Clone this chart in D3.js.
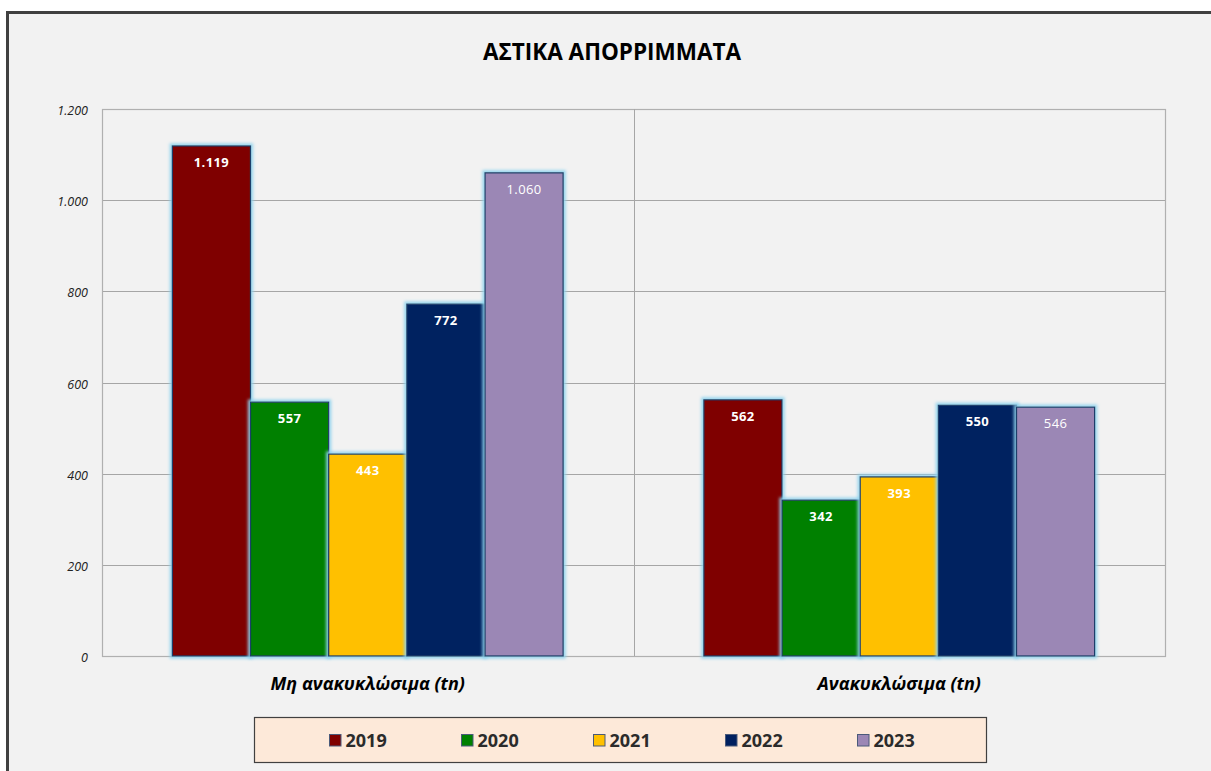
<!DOCTYPE html>
<html>
<head>
<meta charset="utf-8">
<script src="https://cdn.jsdelivr.net/npm/d3@7"></script>
<style>
  html, body { margin: 0; padding: 0; background: #ffffff; }
  svg { display: block; }
</style>
</head>
<body>
<div id="chart"></div>
<script>
// ── Data ─────────────────────────────────────────────
var categories = ['Μη ανακυκλώσιμα (tn)', 'Ανακυκλώσιμα (tn)'];
var years      = ['2019', '2020', '2021', '2022', '2023'];
var values2019 = [1119, 562];
var values2020 = [557, 342];
var values2021 = [443, 393];
var values2022 = [772, 550];
var values2023 = [1060, 546];
var yTicks     = [0, 200, 400, 600, 800, 1000, 1200];

var seriesValues = [values2019, values2020, values2021, values2022, values2023];
var COLORS = ['#7f0000', '#008000', '#ffc000', '#002060', '#9b87b5'];
var FONT = '"Open Sans", "Noto Sans", sans-serif';

var W = 1211, H = 771;
var plot = { left: 102, right: 1165, top: 109, bottom: 656 };

var locale = d3.formatLocale({ decimal: ',', thousands: '.', grouping: [3], currency: ['', '€'] });
var fmt = locale.format(',d');

var svg = d3.select('#chart').append('svg')
  .attr('width', W)
  .attr('height', H);

var defs = svg.append('defs');
var glow = defs.append('filter')
  .attr('id', 'glow')
  .attr('x', '-20%').attr('y', '-20%')
  .attr('width', '140%').attr('height', '140%');
glow.append('feMorphology')
  .attr('in', 'SourceAlpha').attr('operator', 'dilate').attr('radius', 1.5).attr('result', 'dil');
glow.append('feGaussianBlur').attr('in', 'dil').attr('stdDeviation', 1.5).attr('result', 'blur');
glow.append('feFlood').attr('flood-color', '#8fd3ee').attr('flood-opacity', 0.9);
glow.append('feComposite').attr('in2', 'blur').attr('operator', 'in').attr('result', 'shadow');
var merge = glow.append('feMerge');
merge.append('feMergeNode').attr('in', 'shadow');
merge.append('feMergeNode').attr('in', 'SourceGraphic');

// outer chart area
svg.append('rect')
  .attr('x', 7.5).attr('y', 12.5)
  .attr('width', 1240).attr('height', 800)
  .attr('fill', '#f2f2f2')
  .attr('stroke', '#404040')
  .attr('stroke-width', 3);

// title
svg.append('text')
  .attr('x', 612).attr('y', 60)
  .attr('text-anchor', 'middle')
  .attr('font-family', FONT)
  .attr('font-size', '22.5px')
  .attr('font-weight', 'bold')
  .attr('fill', '#000')
  .text('ΑΣΤΙΚΑ ΑΠΟΡΡΙΜΜΑΤΑ');

// ── Scales ───────────────────────────────────────────
var x0 = d3.scaleBand()
  .domain(categories)
  .range([plot.left, plot.right])
  .paddingInner(0)
  .paddingOuter(0);

var x1 = d3.scaleBand()
  .domain(years)
  .range([0, x0.bandwidth()])
  .paddingInner(0)
  .paddingOuter(0.9);

var y = d3.scaleLinear()
  .domain([0, 1200])
  .range([plot.bottom, plot.top]);

// grid
var grid = svg.append('g');
grid.selectAll('line.h')
  .data(yTicks)
  .enter().append('line')
  .attr('x1', plot.left).attr('x2', plot.right)
  .attr('y1', function(d) { return Math.round(y(d)) + 0.5; })
  .attr('y2', function(d) { return Math.round(y(d)) + 0.5; })
  .attr('stroke', '#a6a6a6')
  .attr('stroke-width', 1);

svg.append('rect')
  .attr('x', plot.left + 0.5).attr('y', plot.top + 0.5)
  .attr('width', plot.right - plot.left).attr('height', plot.bottom - plot.top)
  .attr('fill', 'none')
  .attr('stroke', '#b0b0b0')
  .attr('stroke-width', 1.2);

svg.append('line')
  .attr('x1', Math.round(x0(categories[1])) + 0.5)
  .attr('x2', Math.round(x0(categories[1])) + 0.5)
  .attr('y1', plot.top).attr('y2', plot.bottom)
  .attr('stroke', '#a6a6a6');

// y axis labels
var yAxis = d3.axisLeft(y)
  .tickValues(yTicks)
  .tickSize(0)
  .tickPadding(0)
  .tickFormat(fmt);

var yG = svg.append('g')
  .attr('transform', 'translate(' + 88 + ',0)')
  .call(yAxis);
yG.select('.domain').remove();
yG.selectAll('text')
  .attr('font-family', FONT)
  .attr('font-size', '12.5px')
  .attr('font-style', 'italic')
  .attr('dy', '0.45em')
  .attr('fill', '#222');

// category labels
var xAxis = d3.axisBottom(x0).tickSize(0).tickPadding(0);
var xG = svg.append('g')
  .attr('transform', 'translate(0,' + 690 + ')')
  .call(xAxis);
xG.select('.domain').remove();
xG.selectAll('text')
  .attr('font-family', FONT)
  .attr('font-size', '18px')
  .attr('font-style', 'italic')
  .attr('font-weight', 'bold')
  .attr('dy', 0)
  .attr('fill', '#000');

// ── Bars ─────────────────────────────────────────────
var barData = [];
categories.forEach(function(c, ci) {
  years.forEach(function(yr, si) {
    barData.push({ cat: c, year: yr, si: si, value: seriesValues[si][ci] });
  });
});

var bars = svg.append('g');
bars.selectAll('rect')
  .data(barData)
  .enter().append('rect')
  .attr('x', function(d) { return x0(d.cat) + x1(d.year); })
  .attr('y', function(d) { return y(d.value); })
  .attr('width', x1.bandwidth())
  .attr('height', function(d) { return y(0) - y(d.value); })
  .attr('fill', function(d) { return COLORS[d.si]; })
  .attr('stroke', '#1f3f6a')
  .attr('stroke-width', 1.3)
  .attr('filter', 'url(#glow)');

bars.selectAll('text')
  .data(barData)
  .enter().append('text')
  .attr('x', function(d) { return x0(d.cat) + x1(d.year) + x1.bandwidth() / 2; })
  .attr('y', function(d) { return y(d.value) + 21; })
  .attr('text-anchor', 'middle')
  .attr('font-family', FONT)
  .attr('font-size', '13px')
  .attr('letter-spacing', '0.4px')
  .attr('font-weight', function(d) { return d.si === 4 ? 'normal' : 'bold'; })
  .attr('fill', '#ffffff')
  .text(function(d) { return fmt(d.value); });

// ── Legend ───────────────────────────────────────────
var legend = svg.append('g');
legend.append('rect')
  .attr('x', 254.5).attr('y', 717.5)
  .attr('width', 732).attr('height', 45)
  .attr('fill', '#fde9d9')
  .attr('stroke', '#404040')
  .attr('stroke-width', 1.2);

var items = legend.selectAll('g.item')
  .data(years)
  .enter().append('g')
  .attr('transform', function(d, i) { return 'translate(' + (329.5 + i * 132) + ',734.5)'; });

items.append('rect')
  .attr('width', 11.5).attr('height', 11.5)
  .attr('fill', function(d, i) { return COLORS[i]; })
  .attr('stroke', '#4a5a7a')
  .attr('stroke-width', 1);

items.append('text')
  .attr('x', 16).attr('y', 12.5)
  .attr('font-family', FONT)
  .attr('font-size', '18px')
  .attr('font-weight', 'bold')
  .attr('fill', '#2b2b2b')
  .text(function(d) { return d; });
</script>
</body>
</html>
